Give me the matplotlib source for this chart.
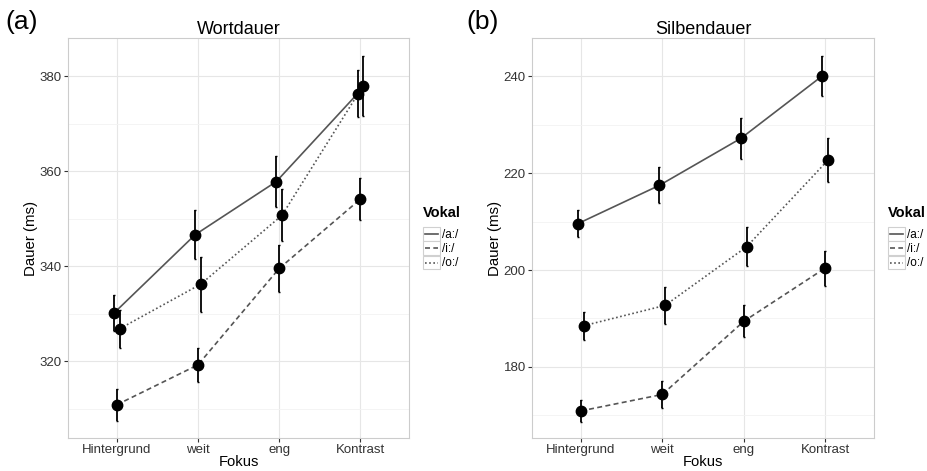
import numpy as np
import matplotlib.pyplot as plt
from matplotlib.ticker import MultipleLocator
from matplotlib.lines import Line2D
from matplotlib.patches import Rectangle
from matplotlib.legend_handler import HandlerBase

plt.rcParams["font.family"] = ["Liberation Sans", "DejaVu Sans"]

fokus = ["Hintergrund", "weit", "eng", "Kontrast"]
vokale = ["/a:/", "/i:/", "/o:/"]

# Wortdauer (ms): Mittelwerte und Fehlerbalken
wort_a = [330.1, 346.6, 357.8, 376.3]
wort_i = [310.8, 319.2, 339.5, 354.1]
wort_o = [326.8, 336.2, 350.7, 378.0]
wort_a_err = [3.8, 5.2, 5.4, 5.0]
wort_i_err = [3.4, 3.6, 5.0, 4.4]
wort_o_err = [4.0, 5.8, 5.5, 6.3]

# Silbendauer (ms)
silbe_a = [209.6, 217.5, 227.2, 240.1]
silbe_i = [170.9, 174.3, 189.4, 200.4]
silbe_o = [188.5, 192.7, 204.8, 222.7]
silbe_a_err = [2.7, 3.7, 4.2, 4.2]
silbe_i_err = [2.2, 2.8, 3.3, 3.6]
silbe_o_err = [2.9, 3.8, 4.0, 4.5]

linestyles = {"/a:/": "-", "/i:/": (0, (3, 2)), "/o:/": (0, (1, 1.5))}
dodge = {"/a:/": -0.035, "/i:/": 0.0, "/o:/": 0.035}


class KeyBox(HandlerBase):
    # ggplot-artiger Legendenschluessel: Linie in grauem Kaestchen
    def create_artists(self, legend, orig, xd, yd, width, height, fontsize, trans):
        box = Rectangle((0, -yd), width, height, fc="white",
                        ec="#d0d0d0", lw=0.8, transform=trans)
        ln = Line2D([1.5, width - 1.5], [height / 2 - yd] * 2, color="#555555",
                    lw=1.2, ls=linestyles[orig.get_label()], transform=trans)
        return [box, ln]


def panel(ax, means, errs, title, ylim, major):
    x = np.arange(len(fokus))
    handles = []
    for v, m, e in zip(vokale, means, errs):
        xd = x + dodge[v]
        h, = ax.plot(xd, m, color="#555555", lw=1.2, ls=linestyles[v], zorder=2, label=v)
        handles.append(h)
        ax.errorbar(xd, m, yerr=e, fmt="none", ecolor="black", elinewidth=1.3, capsize=1, zorder=3)
        ax.plot(xd, m, "o", color="black", ms=7.5, zorder=4)
    ax.set_xlim(-0.6, 3.6)
    ax.set_ylim(*ylim)
    ax.set_xticks(x)
    ax.set_xticklabels(fokus, fontsize=9.5, color="#333333")
    ax.yaxis.set_major_locator(MultipleLocator(major))
    ax.yaxis.set_minor_locator(MultipleLocator(major / 2))
    ax.tick_params(axis="y", labelsize=9.5, labelcolor="#333333", pad=1.5)
    ax.tick_params(axis="x", pad=1.5)
    ax.tick_params(which="major", length=3, color="#333333")
    ax.tick_params(which="minor", length=0)
    ax.grid(True, which="major", color="#e6e6e6", lw=0.8)
    ax.grid(True, which="minor", axis="y", color="#f3f3f3", lw=0.6)
    ax.set_axisbelow(True)
    for s in ax.spines.values():
        s.set_color("#cccccc")
    ax.set_title(title, fontsize=13, pad=3)
    ax.set_xlabel("Fokus", fontsize=10.6, labelpad=-1)
    ax.set_ylabel("Dauer (ms)", fontsize=10.8, labelpad=1)
    leg = ax.legend(handles=handles, loc="upper left", bbox_to_anchor=(1.04, 0.58), frameon=False,
                    title="Vokal", fontsize=8.5, handlelength=1.45, handleheight=1.4,
                    handletextpad=0.2, labelspacing=0.05, borderaxespad=0, borderpad=0,
                    handler_map={Line2D: KeyBox()})
    leg.get_title().set_fontweight("bold")
    leg.get_title().set_fontsize(10.5)
    leg._legend_box.align = "left"
    leg._legend_box.sep = 5


fig = plt.figure(figsize=(9.28, 4.71), dpi=100)
ax1 = fig.add_axes([0.0733, 0.070, 0.3675, 0.849])
ax2 = fig.add_axes([0.5733, 0.070, 0.3685, 0.849])

panel(ax1, [wort_a, wort_i, wort_o], [wort_a_err, wort_i_err, wort_o_err],
      "Wortdauer", (303.8, 388.0), 20)
panel(ax2, [silbe_a, silbe_i, silbe_o], [silbe_a_err, silbe_i_err, silbe_o_err],
      "Silbendauer", (165.3, 247.9), 20)

fig.text(0.006, 0.978, "(a)", fontsize=19, va="top")
fig.text(0.503, 0.978, "(b)", fontsize=19, va="top")

fig.savefig("out.png", dpi=100)
